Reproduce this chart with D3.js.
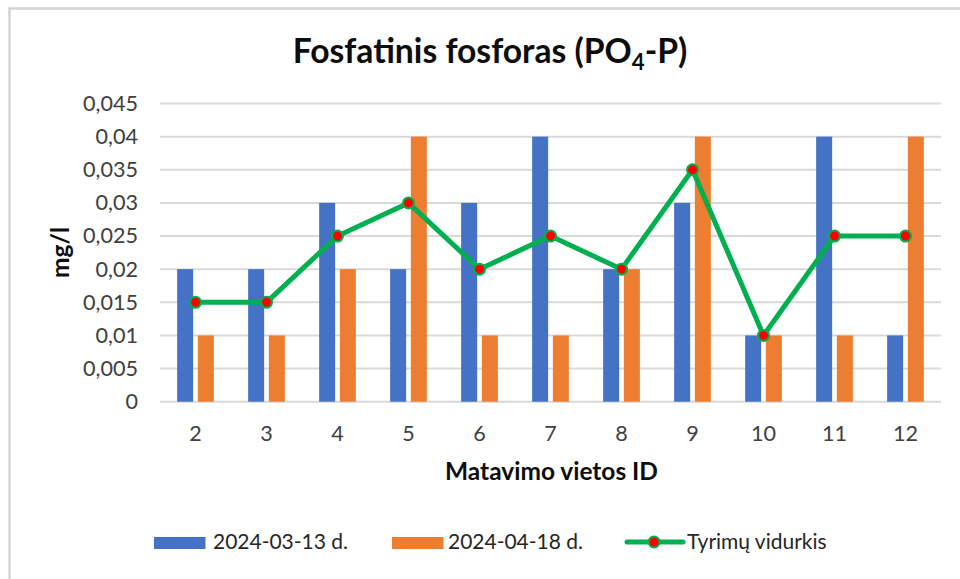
<!DOCTYPE html>
<html><head><meta charset="utf-8">
<script src="https://cdn.jsdelivr.net/npm/d3@7"></script>
<style>body{margin:0;background:#fff}svg{display:block}text{font-family:Lato,"Open Sans",sans-serif}</style>
</head><body>
<svg id="c" width="960" height="579"></svg>
<script>
const categories = ["2","3","4","5","6","7","8","9","10","11","12"];
const series1Name = "2024-03-13 d.";
const series1 = [0.02,0.02,0.03,0.02,0.03,0.04,0.02,0.03,0.01,0.04,0.01];
const series2Name = "2024-04-18 d.";
const series2 = [0.01,0.01,0.02,0.04,0.01,0.01,0.02,0.04,0.01,0.01,0.04];
const avgName = "Tyrimų vidurkis";
const average = [0.015,0.015,0.025,0.03,0.02,0.025,0.02,0.035,0.01,0.025,0.025];
const yTicks = [0,0.005,0.01,0.015,0.02,0.025,0.03,0.035,0.04,0.045];
const titleMain = "Fosfatinis fosforas (PO", titleSub = "4", titleEnd = "-P)";
const xTitle = "Matavimo vietos ID";
const yTitle = "mg/l";

const svg = d3.select("#c");
const C1 = "#4472c4", C2 = "#ed7d31", CL = "#00b050", CM = "#ff0000";
const grid = "#d9d9d9";

// frame
svg.append("path").attr("d","M9.5,1000V8.5H1000").attr("fill","none").attr("stroke","#d4d4d4").attr("stroke-width",2.5);

const x = d3.scaleBand().domain(categories).range([160,941]).padding(0);
const y = d3.scaleLinear().domain([0,0.045]).range([401.7,103.5]);
const inner = d3.scaleBand().domain([0,1]).range([-18.35,18.35]).paddingInner(0.227).paddingOuter(0);

function fit(sel, target){
  const w = sel.node().getComputedTextLength();
  const fs = parseFloat(sel.attr("font-size"));
  return fs*target/w;
}

// gridlines
svg.append("g").selectAll("line").data(yTicks).join("line")
  .attr("x1",160).attr("x2",941).attr("y1",d=>y(d)).attr("y2",d=>y(d))
  .attr("stroke",grid).attr("stroke-width",2);

const fmt = d => String(d).replace(".",",");
// measure tick font
const probe = svg.append("text").attr("font-size",20).text("0,045");
const tickFs = fit(probe, 55); probe.remove();

svg.append("g").selectAll("text").data(yTicks).join("text")
  .attr("x",138).attr("y",d=>y(d)+tickFs*0.34).attr("text-anchor","end")
  .attr("font-size",tickFs).attr("fill","#404040").text(fmt);

svg.append("g").selectAll("text").data(categories).join("text")
  .attr("x",d=>x(d)+x.bandwidth()/2).attr("y",441).attr("text-anchor","middle")
  .attr("font-size",tickFs).attr("fill","#404040").text(d=>d);

// bars
const rows = categories.map((c,i)=>({c, v:[series1[i],series2[i]]}));
const colors=[C1,C2];
const gb = svg.append("g");
rows.forEach(r=>{
  r.v.forEach((v,k)=>{
    gb.append("rect").attr("x",x(r.c)+x.bandwidth()/2+inner(k)).attr("width",inner.bandwidth())
      .attr("y",y(v)).attr("height",y(0)-y(v)).attr("fill",colors[k]);
  });
});

// line
const cx = c => x(c)+x.bandwidth()/2;
const line = d3.line().x((d,i)=>cx(categories[i])).y(d=>y(d));
svg.append("path").datum(average).attr("d",line).attr("fill","none")
  .attr("stroke",CL).attr("stroke-width",5).attr("stroke-linejoin","round").attr("stroke-linecap","round");
svg.append("g").selectAll("circle").data(average).join("circle")
  .attr("cx",(d,i)=>cx(categories[i])).attr("cy",d=>y(d)).attr("r",5.5)
  .attr("fill",CM).attr("stroke",CL).attr("stroke-width",2);

// title
const t = svg.append("text").attr("x",490).attr("y",63).attr("text-anchor","middle")
  .attr("font-size",30).attr("font-weight","bold").attr("fill","#0d0d0d");
t.append("tspan").text(titleMain);
const sub = t.append("tspan").attr("dy",7).text(titleSub);
t.append("tspan").attr("dy",-7).text(titleEnd);
sub.attr("font-size",20);
{
  const w = t.node().getBBox().width;
  const fs = 30*395/w;
  t.attr("font-size",fs); sub.attr("font-size",fs*0.66);
  sub.attr("dy",fs*0.22); t.select("tspan:last-child").attr("dy",-fs*0.22);
}

// axis titles
const xt = svg.append("text").attr("x",551.5).attr("y",480).attr("text-anchor","middle")
  .attr("font-size",20).attr("font-weight","bold").attr("fill","#0d0d0d").text(xTitle);
xt.attr("font-size",fit(xt,213));
const yt = svg.append("text").attr("transform","translate(69,252.5) rotate(-90)").attr("text-anchor","middle")
  .attr("font-size",20).attr("font-weight","bold").attr("fill","#0d0d0d").text(yTitle);
yt.attr("font-size",fit(yt,51));

// legend
const lg = svg.append("g");
const items = [
  {name:series1Name, type:"bar", color:C1, sx:154, tx:213, w:135},
  {name:series2Name, type:"bar", color:C2, sx:392, tx:448, w:135},
  {name:avgName, type:"line", sx:627, tx:687, w:146}
];
const lp = svg.append("text").attr("font-size",20).text(series1Name);
const legFs = fit(lp,135); lp.remove();
items.forEach(it=>{
  if(it.type==="bar"){
    lg.append("rect").attr("x",it.sx).attr("y",537).attr("width",51.5).attr("height",12).attr("fill",it.color);
  } else {
    lg.append("line").attr("x1",it.sx).attr("x2",it.sx+56).attr("y1",542).attr("y2",542)
      .attr("stroke",CL).attr("stroke-width",5).attr("stroke-linecap","round");
    lg.append("circle").attr("cx",it.sx+27).attr("cy",542).attr("r",5.5).attr("fill",CM).attr("stroke",CL).attr("stroke-width",2);
  }
  lg.append("text").attr("x",it.tx).attr("y",549).attr("font-size",legFs).attr("fill","#262626").text(it.name);
});
</script>
</body></html>
